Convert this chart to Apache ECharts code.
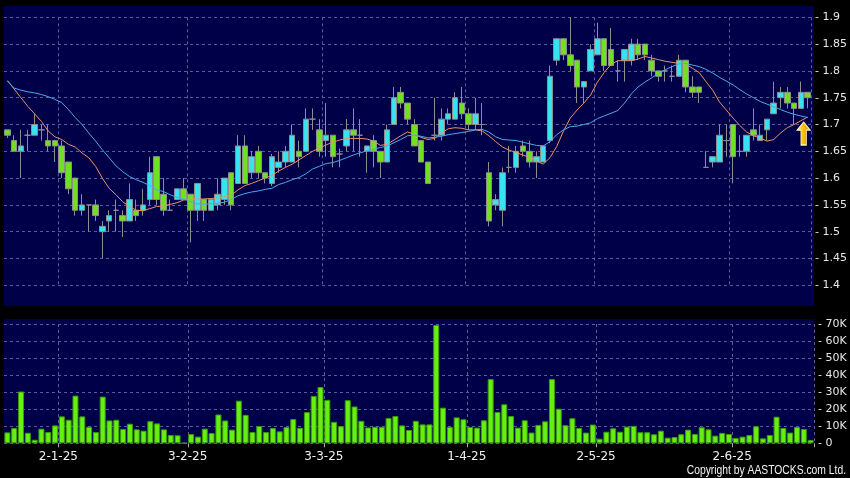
<!DOCTYPE html>
<html><head><meta charset="utf-8">
<script src="https://cdn.jsdelivr.net/npm/echarts@6/dist/echarts.min.js"></script>
<style>html,body{margin:0;padding:0;background:#000;}#c{width:850px;height:478px;}</style>
</head><body><div id="c"></div>
<script>
const dates = ['18-12-24','19-12-24','20-12-24','23-12-24','24-12-24','27-12-24','30-12-24','31-12-24',
'2-1-25','3-1-25','6-1-25','7-1-25','8-1-25','9-1-25','10-1-25','13-1-25','14-1-25','15-1-25','16-1-25','17-1-25','20-1-25','21-1-25','22-1-25','23-1-25','24-1-25','27-1-25','28-1-25',
'3-2-25','4-2-25','5-2-25','6-2-25','7-2-25','10-2-25','11-2-25','12-2-25','13-2-25','14-2-25','17-2-25','18-2-25','19-2-25','20-2-25','21-2-25','24-2-25','25-2-25','26-2-25','27-2-25','28-2-25',
'3-3-25','4-3-25','5-3-25','6-3-25','7-3-25','10-3-25','11-3-25','12-3-25','13-3-25','14-3-25','17-3-25','18-3-25','19-3-25','20-3-25','21-3-25','24-3-25','25-3-25','26-3-25','27-3-25','28-3-25','31-3-25',
'1-4-25','2-4-25','3-4-25','7-4-25','8-4-25','9-4-25','10-4-25','11-4-25','14-4-25','15-4-25','16-4-25','17-4-25','22-4-25','23-4-25','24-4-25','25-4-25','28-4-25','29-4-25','30-4-25',
'2-5-25','6-5-25','7-5-25','8-5-25','9-5-25','12-5-25','13-5-25','14-5-25','15-5-25','16-5-25','19-5-25','20-5-25','21-5-25','22-5-25','23-5-25','26-5-25','27-5-25','28-5-25','29-5-25','30-5-25',
'2-6-25','3-6-25','4-6-25','5-6-25','6-6-25','9-6-25','10-6-25','11-6-25','12-6-25','13-6-25','16-6-25','17-6-25'];

const tickLabels = ['2-1-25','3-2-25','3-3-25','1-4-25','2-5-25','2-6-25'];

const opens = [1.69,1.67,1.65,1.68,1.68,1.69,1.67,1.67,1.66,1.63,
1.60,1.54,1.55,1.55,1.50,1.52,1.54,1.53,1.52,1.54,
1.54,1.56,1.64,1.57,1.54,1.56,1.58,1.57,1.54,1.56,
1.54,1.55,1.56,1.61,1.59,1.66,1.61,1.65,1.61,1.59,
1.62,1.63,1.63,1.65,1.65,1.71,1.69,1.67,1.68,1.645,
1.66,1.69,1.68,1.65,1.67,1.65,1.63,1.70,1.76,1.74,
1.70,1.67,1.63,1.68,1.68,1.71,1.71,1.74,1.72,1.70,
1.70,1.61,1.55,1.54,1.62,1.62,1.66,1.65,1.63,1.63,
1.67,1.82,1.86,1.83,1.82,1.77,1.80,1.83,1.86,1.84,
1.80,1.82,1.82,1.85,1.85,1.82,1.80,1.80,1.79,1.79,
1.82,1.77,1.77,1.62,1.63,1.63,1.67,1.70,1.65,1.65,
1.69,1.67,1.69,1.72,1.75,1.76,1.74,1.73,1.76];

const closes = [1.68,1.65,1.66,1.68,1.70,1.69,1.66,1.66,1.61,1.58,
1.54,1.55,1.55,1.53,1.51,1.53,1.54,1.52,1.56,1.53,
1.55,1.61,1.56,1.54,1.54,1.58,1.56,1.54,1.59,1.54,
1.56,1.57,1.60,1.55,1.66,1.59,1.64,1.61,1.60,1.64,
1.63,1.65,1.68,1.64,1.71,1.71,1.65,1.68,1.64,1.645,
1.69,1.68,1.68,1.66,1.65,1.63,1.69,1.75,1.74,1.71,
1.66,1.63,1.59,1.68,1.71,1.72,1.75,1.72,1.70,1.72,
1.70,1.52,1.56,1.61,1.62,1.65,1.65,1.63,1.64,1.66,
1.79,1.86,1.83,1.81,1.77,1.78,1.84,1.86,1.81,1.81,
1.80,1.84,1.85,1.83,1.83,1.80,1.79,1.80,1.79,1.82,
1.77,1.76,1.76,1.62,1.64,1.68,1.67,1.64,1.65,1.68,
1.68,1.68,1.71,1.74,1.76,1.74,1.73,1.76,1.75];

const lows = [1.675,1.65,1.60,1.65,1.68,1.67,1.65,1.63,1.60,1.57,
1.53,1.53,1.50,1.52,1.45,1.50,1.50,1.49,1.52,1.52,
1.53,1.55,1.55,1.53,1.54,1.56,1.56,1.48,1.52,1.52,
1.54,1.54,1.55,1.54,1.59,1.59,1.60,1.60,1.59,1.585,
1.61,1.62,1.63,1.62,1.65,1.69,1.64,1.64,1.62,1.62,
1.65,1.65,1.64,1.61,1.62,1.60,1.63,1.70,1.73,1.70,
1.66,1.63,1.59,1.67,1.67,1.70,1.71,1.71,1.69,1.69,
1.68,1.51,1.54,1.51,1.61,1.61,1.64,1.62,1.60,1.63,
1.665,1.81,1.82,1.80,1.74,1.74,1.80,1.83,1.80,1.81,
1.78,1.78,1.81,1.82,1.82,1.79,1.78,1.78,1.78,1.79,
1.76,1.75,1.74,1.62,1.62,1.63,1.64,1.59,1.64,1.64,
1.67,1.67,1.67,1.72,1.73,1.73,1.70,1.73,1.73];

const highs = [1.69,1.68,1.69,1.69,1.72,1.70,1.70,1.67,1.67,1.63,
1.60,1.57,1.55,1.56,1.52,1.54,1.56,1.54,1.59,1.56,
1.58,1.64,1.64,1.60,1.56,1.58,1.60,1.57,1.59,1.56,
1.56,1.60,1.60,1.61,1.68,1.68,1.65,1.66,1.61,1.645,
1.65,1.66,1.70,1.67,1.73,1.73,1.71,1.74,1.68,1.655,
1.71,1.73,1.71,1.66,1.68,1.65,1.70,1.77,1.77,1.74,
1.71,1.67,1.63,1.75,1.73,1.73,1.76,1.77,1.73,1.75,
1.74,1.63,1.57,1.62,1.66,1.66,1.67,1.67,1.65,1.66,
1.81,1.86,1.86,1.90,1.82,1.78,1.85,1.89,1.86,1.88,
1.82,1.84,1.86,1.86,1.85,1.83,1.80,1.81,1.81,1.83,
1.82,1.79,1.77,1.65,1.64,1.70,1.70,1.70,1.68,1.68,
1.73,1.70,1.71,1.78,1.77,1.77,1.74,1.78,1.76];

const ma10 = [1.782,1.766,1.750,1.734,1.720,1.706,1.688,1.677,1.672,1.663,
1.658,1.647,1.638,1.622,1.600,1.581,1.569,1.556,1.547,1.540,
1.539,1.543,1.547,1.548,1.551,1.554,1.559,1.561,1.561,1.561,
1.562,1.563,1.565,1.568,1.578,1.586,1.590,1.595,1.600,1.605,
1.613,1.620,1.626,1.634,1.642,1.650,1.656,1.662,1.667,1.671,
1.674,1.674,1.674,1.673,1.669,1.661,1.663,1.671,1.679,1.686,
1.682,1.676,1.672,1.674,1.684,1.692,1.694,1.693,1.690,1.690,
1.688,1.679,1.668,1.658,1.652,1.648,1.643,1.639,1.632,1.626,
1.638,1.659,1.688,1.712,1.727,1.740,1.755,1.779,1.797,1.812,
1.819,1.819,1.819,1.822,1.827,1.824,1.821,1.818,1.816,1.814,
1.813,1.805,1.797,1.780,1.764,1.742,1.727,1.712,1.698,1.686,
1.679,1.675,1.669,1.672,1.684,1.694,1.700,1.707,1.714];

const ma20 = [1.781,1.768,1.764,1.761,1.759,1.756,1.752,1.747,1.741,1.728,
1.713,1.700,1.684,1.669,1.653,1.638,1.623,1.612,1.603,1.597,
1.592,1.586,1.578,1.575,1.569,1.564,1.561,1.556,1.552,1.551,
1.552,1.553,1.555,1.560,1.567,1.571,1.574,1.576,1.579,1.581,
1.588,1.592,1.597,1.601,1.608,1.617,1.622,1.627,1.629,1.633,
1.638,1.643,1.647,1.651,1.654,1.657,1.660,1.666,1.672,1.679,
1.680,1.678,1.675,1.676,1.678,1.681,1.683,1.685,1.687,1.690,
1.691,1.686,1.677,1.672,1.671,1.670,1.667,1.664,1.661,1.660,
1.668,1.681,1.690,1.696,1.697,1.700,1.703,1.711,1.716,1.721,
1.726,1.740,1.757,1.770,1.779,1.787,1.795,1.802,1.808,1.813,
1.814,1.811,1.808,1.803,1.796,1.788,1.781,1.774,1.765,1.757,
1.750,1.743,1.738,1.733,1.728,1.723,1.719,1.716,1.713];

const volumes = [6400,9000,30400,6200,2100,8600,6600,10500,15800,13800,
28000,15800,9700,6600,27400,13400,13800,8400,11500,8200,
7400,13000,11700,8200,4900,4700,200,5400,3900,8600,
6000,16900,13400,8000,25000,16700,6600,10100,6600,9000,
7000,9500,14200,9100,18300,27800,33000,25500,12600,10100,
25300,21600,13200,9300,9700,9700,14800,16000,10500,7800,
13200,11100,11100,69400,20900,9600,15200,14100,9600,9200,
13500,37700,18400,22900,16000,9200,13500,6300,10800,12900,
37700,20300,10600,14700,9000,6300,11000,2700,6800,8800,
6800,9800,10200,6500,6500,5300,7400,3300,3700,5300,
8000,5500,9400,8200,4500,6100,5500,3100,3900,4900,
10000,2900,4900,15600,9000,6300,9600,8400,2000];

[opens,closes,lows,highs,ma10,ma20,volumes].forEach((a,k)=>{ if(a.length!==dates.length) throw new Error('len mismatch '+k+' '+a.length+' vs '+dates.length); });

const candleData = dates.map((d,i)=>[opens[i], closes[i], lows[i], highs[i]]);
const isTick = (idx, val) => tickLabels.indexOf(val) >= 0;
const gridColor = '#5a5a9c';
const vSplit = {show:true, interval:isTick, lineStyle:{color:gridColor, type:[3,3], width:1}};
const hSplit = {show:true, lineStyle:{color:gridColor, type:[3,3], width:1}};

const chart = echarts.init(document.getElementById('c'));
chart.setOption({
  backgroundColor:'#000000',
  animation:false,
  graphic:[
    {type:'rect', z:-10, silent:true, shape:{x:4, y:6, width:810, height:300}, style:{fill:'#000048'}},
    {type:'rect', z:-10, silent:true, shape:{x:4, y:319, width:810, height:124.5}, style:{fill:'#000048'}},
    {type:'text', x:846, y:471, scaleX:0.86, originX:0, originY:0, silent:true,
     style:{text:'Copyright by AASTOCKS.com Ltd.', fill:'#f2f2f2', align:'right', verticalAlign:'middle', font:'12px "Liberation Sans", sans-serif'}}
  ],
  grid:[
    {left:4, right:36, top:17.3, height:268},
    {left:4, right:36, top:324, height:119.3}
  ],
  xAxis:[
    {type:'category', gridIndex:0, data:dates, boundaryGap:true,
     axisLine:{show:false}, axisTick:{show:false}, axisLabel:{show:false}, splitLine:vSplit},
    {type:'category', gridIndex:1, data:dates, boundaryGap:true,
     axisLine:{show:false},
     axisTick:{show:true, interval:isTick, length:4, lineStyle:{color:'#aaaaaa'}},
     axisLabel:{show:true, interval:isTick, color:'#f0f0f0', fontFamily:'DejaVu Sans', fontSize:12, margin:8, padding:[0,7,0,0]},
     splitLine:vSplit}
  ],
  yAxis:[
    {type:'value', gridIndex:0, position:'right', min:1.4, max:1.9, interval:0.05,
     axisLine:{show:false}, axisTick:{show:false},
     axisLabel:{margin:4, color:'#e6e6e6', fontFamily:'DejaVu Sans', fontSize:11, formatter:v=>'- '+(+v.toFixed(2))},
     splitLine:hSplit},
    {type:'value', gridIndex:1, position:'right', min:0, max:70000, interval:10000,
     axisLine:{show:false}, axisTick:{show:false},
     axisLabel:{margin:4, color:'#e6e6e6', fontFamily:'DejaVu Sans', fontSize:11, formatter:v=>'- '+(v===0?'0':(v/1000)+'K')},
     splitLine:hSplit}
  ],
  series:[
    {type:'candlestick', xAxisIndex:0, yAxisIndex:0, data:candleData, barWidth:6,
     itemStyle:{color:'#38e2ee', color0:'#70e020', borderColor:'#8e8e8e', borderColor0:'#8e8e8e', borderColorDoji:'#8e8e8e', borderWidth:1}},
    {type:'line', xAxisIndex:0, yAxisIndex:0, data:ma10, symbol:'none', z:3, silent:true,
     lineStyle:{color:'#e89468', width:1}},
    {type:'line', xAxisIndex:0, yAxisIndex:0, data:ma20, symbol:'none', z:3, silent:true,
     lineStyle:{color:'#4ea8ea', width:1},
     markPoint:{silent:true, symbol:'path://M6,0 L12,7 L8.5,7 L8.5,20 L3.5,20 L3.5,7 L0,7 Z',
       symbolSize:[13,23], symbolOffset:[-4,16], symbolKeepAspect:false, label:{show:false},
       itemStyle:{color:new echarts.graphic.LinearGradient(0,0,1,0,[{offset:0,color:'#fff08a'},{offset:0.45,color:'#f7c400'},{offset:1,color:'#d89400'}]), borderColor:'#fff6b8', borderWidth:1},
       data:[{coord:[dates[dates.length-1], ma20[ma20.length-1]]}]}},
    {type:'bar', xAxisIndex:1, yAxisIndex:1, data:volumes, barWidth:'88%',
     itemStyle:{color:'#66f011', borderColor:'#3b9a0b', borderWidth:1}}
  ]
});
</script></body></html>
